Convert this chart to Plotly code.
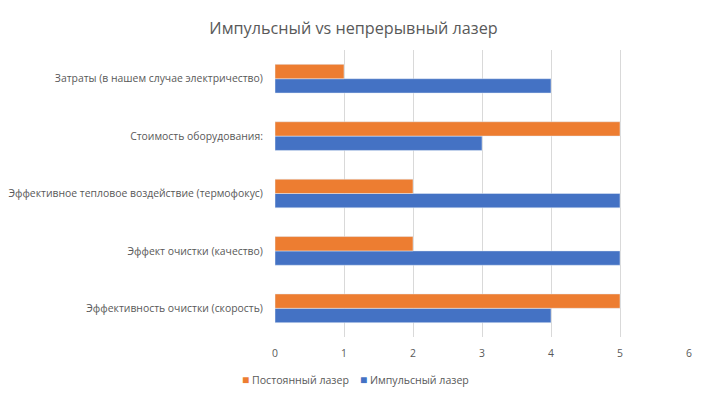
import plotly.graph_objects as go

categories = [
    "Эффективность очистки (скорость)",
    "Эффект очистки (качество)",
    "Эффективное тепловое воздействие (термофокус)",
    "Стоимость оборудования:",
    "Затраты (в нашем случае электричество)",
]
pulsed = [4, 5, 5, 3, 4]
continuous = [5, 2, 2, 5, 1]
x_ticks = [0, 1, 2, 3, 4, 5, 6]
series_names = ["Постоянный лазер", "Импульсный лазер"]
series_colors = ["#ED7D31", "#4472C4"]

FONT = "Open Sans, Liberation Sans, sans-serif"
TXT = "#595959"
W, H = 707, 397
ML, MR, MT, MB = 275, 18, 50, 60
plot_w = W - ML - MR
plot_h = H - MT - MB

fig = go.Figure()
fig.add_trace(go.Bar(y=categories, x=pulsed, orientation="h", name=series_names[1],
                     marker_color=series_colors[1]))
fig.add_trace(go.Bar(y=categories, x=continuous, orientation="h", name=series_names[0],
                     marker_color=series_colors[0]))

legend_text = "    ".join(
    f"<span style='color:{c};font-size:12px'>■</span> {n}"
    for n, c in zip(series_names, series_colors)
)

fig.update_layout(
    width=W, height=H,
    paper_bgcolor="white", plot_bgcolor="white",
    barmode="group", bargap=0.5, bargroupgap=0,
    margin=dict(l=ML, r=MR, t=MT, b=MB),
    font=dict(family=FONT, color=TXT, size=10.4),
    title=dict(text="Импульсный vs непрерывный лазер", x=0.5, xref="container",
               y=1 - 28 / H, yref="container", xanchor="center", yanchor="middle",
               font=dict(size=16.2, color=TXT)),
    showlegend=False,
    annotations=[dict(text=legend_text, x=(355 - ML) / plot_w,
                      y=(H - MB - 380) / plot_h, xref="paper", yref="paper",
                      showarrow=False, font=dict(size=10.6, color=TXT),
                      xanchor="center", yanchor="middle")],
)

fig.update_xaxes(range=[0, 6], tickvals=x_ticks, showgrid=True, gridcolor="#D9D9D9",
                 gridwidth=1, zeroline=False, showline=False, ticks="outside",
                 ticklen=7, tickcolor="rgba(0,0,0,0)",
                 tickfont=dict(size=10.4, color=TXT))
fig.update_yaxes(showgrid=False, showline=False, ticks="outside", ticklen=9,
                 tickcolor="rgba(0,0,0,0)", automargin=False,
                 tickfont=dict(size=10.4, color=TXT))

fig.write_html("out.html", config={"displayModeBar": False})
with open("out.html", encoding="utf-8") as f:
    html = f.read()
html = html.replace("<head>", "<head><style>html,body{margin:0;padding:0;}</style>", 1)
with open("out.html", "w", encoding="utf-8") as f:
    f.write(html)
